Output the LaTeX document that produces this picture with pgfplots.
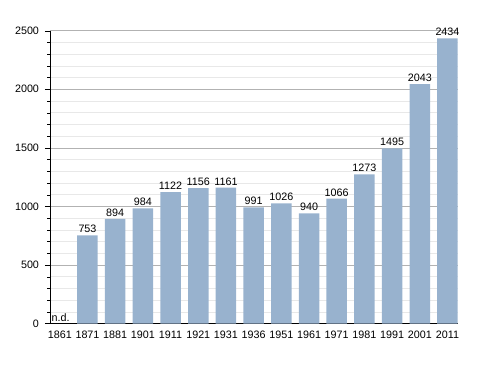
\documentclass[border=0pt]{standalone}
\usepackage{pgfplots}
\pgfplotsset{compat=1.18}
\usepackage{fontspec}
\setmainfont{Liberation Sans}
\definecolor{barc}{RGB}{152,178,206}
\begin{document}
\begin{tikzpicture}[font=\fontsize{10.8}{13}\selectfont]
\begin{axis}[
  name=ax, at={(0,0)}, anchor=south west,
  scale only axis, width=408bp, height=292.8bp,
  xmin=-0.354, xmax=14.38, ymin=0, ymax=2500,
  axis x line=bottom, axis y line=left, axis line style={-, black},
  ytick={0,500,...,2500}, minor y tick num=4,
  ymajorgrids, yminorgrids,
  major grid style={draw=black!30},
  minor grid style={draw=black!9},
  xtick={0,...,14},
  xticklabels={1861,1871,1881,1901,1911,1921,1931,1936,1951,1961,1971,1981,1991,2001,2011},
  x tick style={draw=none},
  y tick style={black},
  tick align=outside,
  major tick length=5bp, minor tick length=2.5bp,
  tick label style={font=\fontsize{10.8}{13}\selectfont},
  /pgf/number format/assume math mode=true,
  /pgf/number format/1000 sep={},
  yticklabel style={xshift=-2.5bp},
  xticklabel style={yshift=1bp},
  ybar, bar width=0.74,
  nodes near coords,
  every node near coord/.append style={font=\fontsize{10.8}{13}\selectfont, black, inner sep=2.2bp},
  enlargelimits=false,
  clip=false,
]
\addplot[fill=barc, draw=none] coordinates {
 (1,753) (2,894) (3,984) (4,1122) (5,1156) (6,1161) (7,991) (8,1026)
 (9,940) (10,1066) (11,1273) (12,1495) (13,2043) (14,2434)};
\node[anchor=south west, inner sep=1.5bp, font=\fontsize{10.8}{13}\selectfont] at (axis cs:-0.354,0) {n.d.};
\end{axis}
\path ([shift={(-50bp,-49.5bp)}]ax.south west) rectangle ([shift={(30bp,30.7bp)}]ax.north east);
\end{tikzpicture}
\end{document}
